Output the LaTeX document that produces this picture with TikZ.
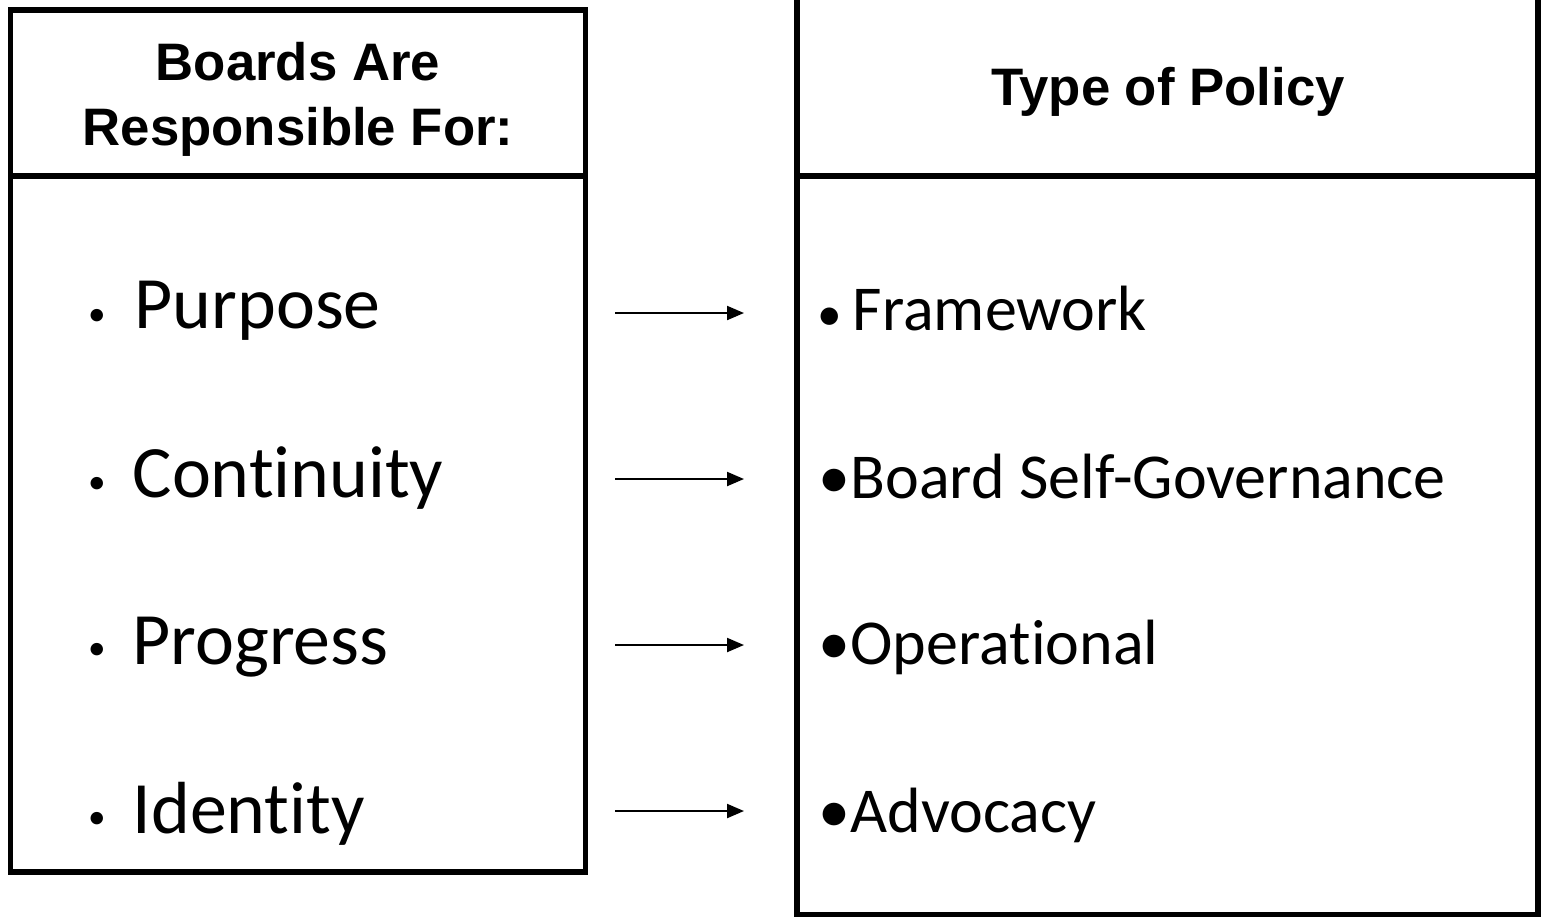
\documentclass[tikz,border=0pt]{standalone}
\usepackage{fontspec}
\setmainfont[RawFeature=-liga]{Carlito}
\newfontfamily\hdfont{Liberation Sans}
\usetikzlibrary{arrows.meta}
\tikzset{
  boxline/.style={line width=1.56pt, line join=miter},
  hdtext/.style={font=\hdfont\bfseries\fontsize{15}{18}\selectfont, inner sep=0pt, anchor=base},
  litem/.style={font=\fontsize{21}{25}\selectfont, inner sep=0pt, anchor=base west},
  ritem/.style={font=\fontsize{18.2}{22}\selectfont, inner sep=0pt, anchor=base west},
  lbul/.style={font=\fontsize{10}{12}\selectfont, inner sep=0pt, anchor=base},
  conn/.style={line width=0.6pt, -{Triangle[length=0.17cm, width=0.14cm]}}
}
\begin{document}
\begin{tikzpicture}[x=0.01cm, y=-0.01cm]
\useasboundingbox (0,0) rectangle (1543,917);
\clip (0,0) rectangle (1543,917);
% left box
\draw[boxline] (10.5,10) rectangle (585.5,872);
\draw[boxline] (10.5,176) -- (585.5,176);
% right box (open at top)
\draw[boxline] (797,-20) -- (797,914.5) -- (1538,914.5) -- (1538,-20);
\draw[boxline] (797,176) -- (1538,176);
% headers
\node[hdtext] (h1) at (298,80) {Boards Are};
\node[hdtext] (h2) at (298,145) {Responsible For:};
\node[hdtext] (h3) at (1168,105) {Type of Policy};
% left items
\node[lbul] (b1) at (97,325) {•};
\node[litem] (l1) at (134,328) {Purpose};
\node[lbul] (b2) at (97,493) {•};
\node[litem] (l2) at (132,497) {Continuity};
\node[lbul] (b3) at (97,659) {•};
\node[litem] (l3) at (132,664) {Progress};
\node[lbul] (b4) at (97,828) {•};
\node[litem] (l4) at (132,833) {Identity};
% right items
\node[ritem] (r1) at (817,330) {{\fontsize{14}{16}\selectfont•}\hspace{3pt}Framework};
\node[ritem] (r2) at (818,498) {•Board Self-Governance};
\node[ritem] (r3) at (818,664) {•Operational};
\node[ritem] (r4) at (818,832) {•Advocacy};
% arrows
\coordinate (a1s) at (615,313); \coordinate (a1e) at (744,313);
\coordinate (a2s) at (615,479); \coordinate (a2e) at (744,479);
\coordinate (a3s) at (615,645); \coordinate (a3e) at (744,645);
\coordinate (a4s) at (615,811); \coordinate (a4e) at (744,811);
\draw[conn] (a1s) -- (a1e);
\draw[conn] (a2s) -- (a2e);
\draw[conn] (a3s) -- (a3e);
\draw[conn] (a4s) -- (a4e);
\end{tikzpicture}
\end{document}
